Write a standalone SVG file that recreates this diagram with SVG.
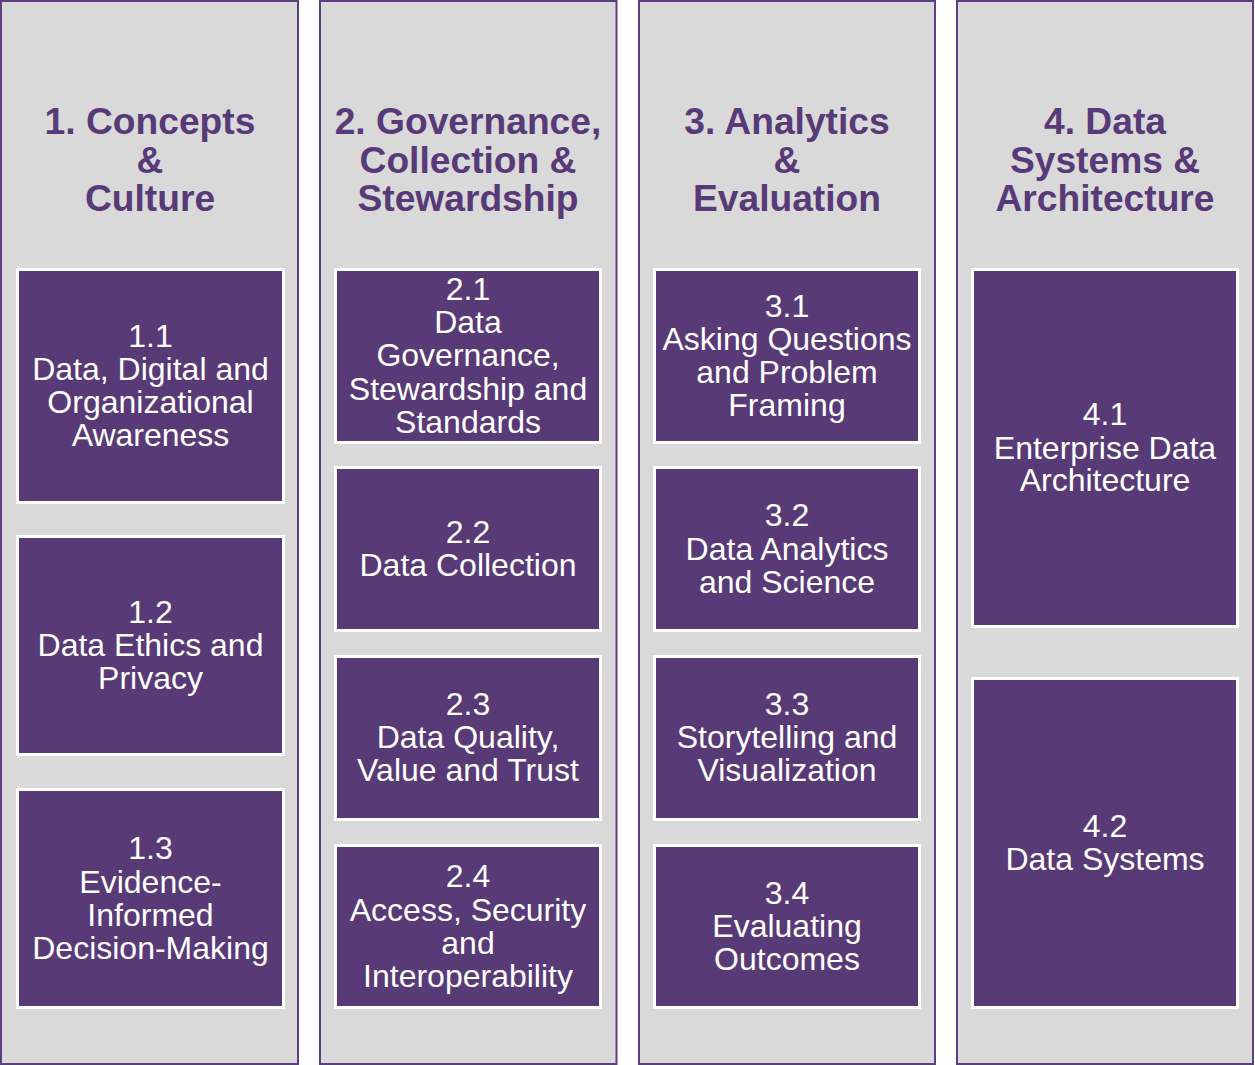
<svg xmlns="http://www.w3.org/2000/svg" width="1255" height="1065" viewBox="0 0 1255 1065">
  <style>
    .col { fill: #d9d9d9; stroke: #5b3f7e; stroke-width: 2; }
    .box { fill: #583a76; stroke: #ffffff; stroke-width: 3; }
    .title { font-family: "Liberation Sans", Arial, sans-serif; font-weight: bold; font-size: 37.2px; fill: #573a77; text-anchor: middle; }
    .label { font-family: "Liberation Sans", Arial, sans-serif; font-size: 32px; fill: #ffffff; text-anchor: middle; }
  </style>
  <rect width="1255" height="1065" fill="#ffffff"/>

  <!-- Column 1 -->
  <g id="col1">
    <rect class="col" x="1" y="1" width="297" height="1063"/>
    <text class="title"><tspan x="150" y="134">1. Concepts</tspan><tspan x="150" y="172.5">&amp;</tspan><tspan x="150" y="211">Culture</tspan></text>
  </g>
  <g id="n1-1">
    <rect class="box" x="17.5" y="269.5" width="266" height="233"/>
    <text class="label"><tspan x="150.5" y="347">1.1</tspan><tspan x="150.5" y="380">Data, Digital and</tspan><tspan x="150.5" y="413">Organizational</tspan><tspan x="150.5" y="446">Awareness</tspan></text>
  </g>
  <g id="n1-2">
    <rect class="box" x="17.5" y="536.5" width="266" height="218"/>
    <text class="label"><tspan x="150.5" y="623">1.2</tspan><tspan x="150.5" y="656">Data Ethics and</tspan><tspan x="150.5" y="689">Privacy</tspan></text>
  </g>
  <g id="n1-3">
    <rect class="box" x="17.5" y="789.5" width="266" height="218"/>
    <text class="label"><tspan x="150.5" y="859">1.3</tspan><tspan x="150.5" y="892.5">Evidence-</tspan><tspan x="150.5" y="925.5">Informed</tspan><tspan x="150.5" y="958.5">Decision-Making</tspan></text>
  </g>

  <!-- Column 2 -->
  <g id="col2">
    <rect class="col" x="320" y="1" width="296.5" height="1063"/>
    <text class="title"><tspan x="468" y="134">2. Governance,</tspan><tspan x="468" y="172.5">Collection &amp;</tspan><tspan x="468" y="211">Stewardship</tspan></text>
  </g>
  <g id="n2-1">
    <rect class="box" x="335.5" y="269.5" width="265" height="173"/>
    <text class="label"><tspan x="468" y="300">2.1</tspan><tspan x="468" y="333">Data</tspan><tspan x="468" y="366">Governance,</tspan><tspan x="468" y="399.5">Stewardship and</tspan><tspan x="468" y="433">Standards</tspan></text>
  </g>
  <g id="n2-2">
    <rect class="box" x="335.5" y="467.5" width="265" height="163"/>
    <text class="label"><tspan x="468" y="543">2.2</tspan><tspan x="468" y="576">Data Collection</tspan></text>
  </g>
  <g id="n2-3">
    <rect class="box" x="335.5" y="656.5" width="265" height="163"/>
    <text class="label"><tspan x="468" y="715">2.3</tspan><tspan x="468" y="748">Data Quality,</tspan><tspan x="468" y="781">Value and Trust</tspan></text>
  </g>
  <g id="n2-4">
    <rect class="box" x="335.5" y="845.5" width="265" height="162"/>
    <text class="label"><tspan x="468" y="887">2.4</tspan><tspan x="468" y="921">Access, Security</tspan><tspan x="468" y="954">and</tspan><tspan x="468" y="987">Interoperability</tspan></text>
  </g>

  <!-- Column 3 -->
  <g id="col3">
    <rect class="col" x="639" y="1" width="296" height="1063"/>
    <text class="title"><tspan x="787" y="134">3. Analytics</tspan><tspan x="787" y="172.5">&amp;</tspan><tspan x="787" y="211">Evaluation</tspan></text>
  </g>
  <g id="n3-1">
    <rect class="box" x="654.5" y="269.5" width="265" height="173"/>
    <text class="label"><tspan x="787" y="317">3.1</tspan><tspan x="787" y="350">Asking Questions</tspan><tspan x="787" y="383">and Problem</tspan><tspan x="787" y="416">Framing</tspan></text>
  </g>
  <g id="n3-2">
    <rect class="box" x="654.5" y="467.5" width="265" height="163"/>
    <text class="label"><tspan x="787" y="526">3.2</tspan><tspan x="787" y="560">Data Analytics</tspan><tspan x="787" y="593">and Science</tspan></text>
  </g>
  <g id="n3-3">
    <rect class="box" x="654.5" y="656.5" width="265" height="163"/>
    <text class="label"><tspan x="787" y="715">3.3</tspan><tspan x="787" y="748">Storytelling and</tspan><tspan x="787" y="781">Visualization</tspan></text>
  </g>
  <g id="n3-4">
    <rect class="box" x="654.5" y="845.5" width="265" height="162"/>
    <text class="label"><tspan x="787" y="904">3.4</tspan><tspan x="787" y="937">Evaluating</tspan><tspan x="787" y="970">Outcomes</tspan></text>
  </g>

  <!-- Column 4 -->
  <g id="col4">
    <rect class="col" x="957" y="1" width="296" height="1063"/>
    <text class="title"><tspan x="1105" y="134">4. Data</tspan><tspan x="1105" y="172.5">Systems &amp;</tspan><tspan x="1105" y="211">Architecture</tspan></text>
  </g>
  <g id="n4-1">
    <rect class="box" x="972.5" y="269.5" width="265" height="357"/>
    <text class="label"><tspan x="1105" y="425">4.1</tspan><tspan x="1105" y="458.5">Enterprise Data</tspan><tspan x="1105" y="491">Architecture</tspan></text>
  </g>
  <g id="n4-2">
    <rect class="box" x="972.5" y="678.5" width="265" height="329"/>
    <text class="label"><tspan x="1105" y="837">4.2</tspan><tspan x="1105" y="870">Data Systems</tspan></text>
  </g>

  <!-- No connectors in this layout -->
  <g id="connectors"/>
</svg>
